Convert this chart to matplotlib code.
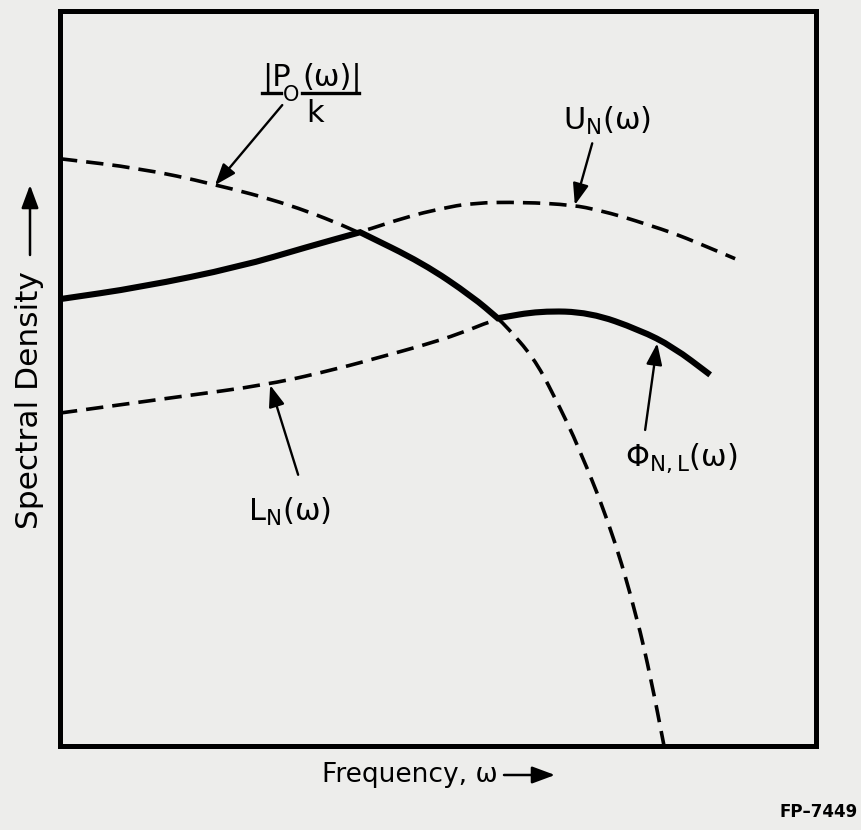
import numpy as np
import matplotlib
matplotlib.use("Agg")
import matplotlib.pyplot as plt
from matplotlib.path import Path
from matplotlib.patches import PathPatch, FancyArrowPatch

plt.rcParams['font.family'] = ['DejaVu Sans']
plt.rcParams['mathtext.default'] = 'regular'

# curves in arbitrary units (frequency 0-10, spectral density 0-10)
p_freq = [0.0, 1.06, 2.02, 3.04, 3.97, 4.80, 5.46, 5.79, 5.91, 6.26, 6.52, 6.88, 7.31, 7.63, 7.82, 7.99]
p_dens = [7.99, 7.86, 7.65, 7.37, 6.99, 6.57, 6.11, 5.82, 5.70, 5.29, 4.80, 4.03, 2.90, 1.76, 0.90, 0.0]

u_freq = [0.0, 1.06, 2.38, 3.27, 3.97, 4.59, 5.03, 5.46, 6.12, 6.79, 7.12, 7.45, 7.78, 8.11, 8.47, 8.93]
u_dens = [6.08, 6.24, 6.52, 6.79, 6.99, 7.20, 7.31, 7.39, 7.40, 7.36, 7.29, 7.20, 7.09, 6.98, 6.83, 6.63]

l_freq = [0.0, 1.49, 2.78, 3.70, 4.23, 4.80, 5.29, 5.79, 6.35, 7.01, 7.67, 8.11, 8.60]
l_dens = [4.53, 4.74, 4.92, 5.14, 5.29, 5.45, 5.61, 5.82, 5.92, 5.90, 5.66, 5.43, 5.05]

# resulting bound: follows U_N, then |P_0|/k, then L_N (corners at index 4 and 7)
phi_freq = [0.0, 1.06, 2.38, 3.27, 3.97, 4.80, 5.46, 5.79, 6.35, 7.01, 7.67, 8.11, 8.60]
phi_dens = [6.08, 6.24, 6.52, 6.79, 6.99, 6.57, 6.11, 5.82, 5.92, 5.90, 5.66, 5.43, 5.05]
phi_corners = [4, 7]


def smooth_path(xs, ys, corners=()):
    # quadratic bezier through the midpoints, keeping sharp corners where asked
    pts = np.column_stack([xs, ys])
    cuts = [0] + list(corners) + [len(pts) - 1]
    verts, codes = [pts[0]], [Path.MOVETO]
    for a, b in zip(cuts[:-1], cuts[1:]):
        seg = pts[a:b + 1]
        if len(seg) == 2:
            verts.append(seg[1]); codes.append(Path.LINETO)
            continue
        mids = (seg[:-1] + seg[1:]) / 2
        verts.append(mids[0]); codes.append(Path.LINETO)
        for i in range(1, len(seg) - 1):
            verts += [seg[i], mids[i]]
            codes += [Path.CURVE3, Path.CURVE3]
        verts.append(seg[-1]); codes.append(Path.LINETO)
    return Path(verts, codes)


paper = '#ededeb'
fig = plt.figure(figsize=(8.61, 8.30), dpi=100, facecolor=paper)
ax = fig.add_axes([60 / 861, 84 / 830, 756 / 861, 735 / 830], facecolor=paper)
ax.set_xlim(0, 10)
ax.set_ylim(0, 10)
ax.set_xticks([])
ax.set_yticks([])
for s in ax.spines.values():
    s.set_linewidth(3.6)
    s.set_color('black')

for xs, ys in [(p_freq, p_dens), (u_freq, u_dens), (l_freq, l_dens)]:
    patch = PathPatch(smooth_path(xs, ys), fill=False, edgecolor='black', lw=2.6,
                      linestyle=(0, (4.8, 2.5)), capstyle='butt')
    ax.add_patch(patch)

ax.add_patch(PathPatch(smooth_path(phi_freq, phi_dens, phi_corners), fill=False,
                       edgecolor='black', lw=4.4, capstyle='butt', joinstyle='miter'))

arrow = dict(arrowstyle='-|>,head_length=0.65,head_width=0.24', color='black',
             lw=1.7, mutation_scale=20, shrinkA=0, shrinkB=0)


def pointer(head, tail):
    ax.annotate('', xy=head, xytext=tail, arrowprops=arrow)


pointer((2.05, 7.63), (2.94, 8.72))
pointer((6.81, 7.36), (7.04, 8.20))
pointer((7.90, 5.48), (7.74, 4.30))
pointer((2.78, 4.91), (3.15, 3.69))

fs = 22
# |P_0(w)| / k written as a hand-lettered fraction
ax.text(2.67, 8.99, '|P', fontsize=fs, ha='left', va='baseline')
ax.text(3.06, 8.86, 'O', fontsize=15, ha='center', va='center')
ax.text(3.20, 8.99, '(ω)|', fontsize=fs, ha='left', va='baseline')
ax.plot([2.67, 2.92], [8.88, 8.88], color='black', lw=2.4)
ax.plot([3.20, 3.96], [8.88, 8.88], color='black', lw=2.4)
ax.text(3.37, 8.49, 'k', fontsize=fs, ha='center', va='baseline')

ax.text(6.65, 8.38, r'$U_N(ω)$', fontsize=fs, ha='left', va='baseline')
ax.text(7.47, 3.81, r'$Φ_{N,L}(ω)$', fontsize=fs, ha='left', va='baseline')
ax.text(2.49, 3.06, r'$L_N(ω)$', fontsize=fs, ha='left', va='baseline')

# axis captions with arrows
fig.text(30 / 861, 1 - 400 / 830, 'Spectral Density', rotation=90, fontsize=22.5,
         ha='center', va='center')
fig.text(322 / 861, 1 - 775 / 830, 'Frequency, ω', fontsize=19, ha='left', va='center')
side = dict(arrowstyle='-|>,head_length=0.7,head_width=0.26', color='black',
            lw=1.8, mutation_scale=20, shrinkA=0, shrinkB=0)
fig.add_artist(FancyArrowPatch((30 / 861, 1 - 255 / 830), (30 / 861, 1 - 185 / 830),
                               transform=fig.transFigure, **side))
fig.add_artist(FancyArrowPatch((504 / 861, 1 - 775 / 830), (555 / 861, 1 - 775 / 830),
                               transform=fig.transFigure, **side))

fig.text(858 / 861, 1 - 812 / 830, 'FP–7449', fontsize=12, fontweight='bold',
         ha='right', va='center')

fig.savefig('out.png', dpi=100, facecolor=paper)
